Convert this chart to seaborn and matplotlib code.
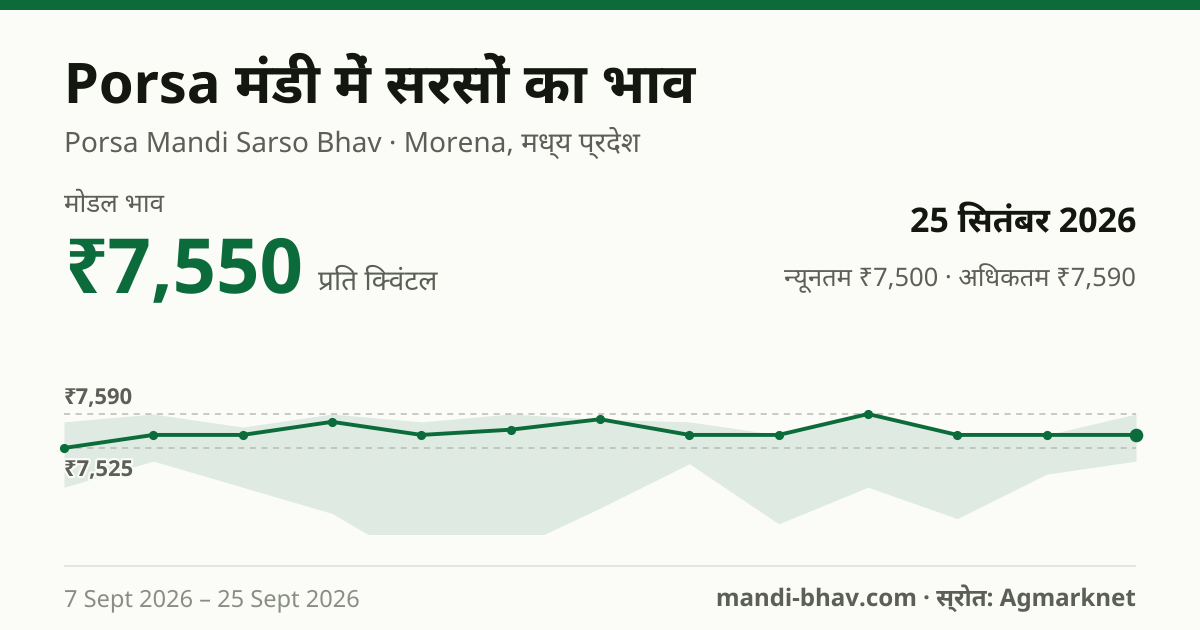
import os, re, tempfile
import matplotlib
matplotlib.use('Agg')
import matplotlib.pyplot as plt
import matplotlib.patheffects as pe
from matplotlib.patches import Rectangle
from matplotlib.text import Text
from matplotlib import font_manager as fm
from fontTools.ttLib import TTFont
from fontTools.varLib import instancer
import pandas as pd
import seaborn as sns

modal = [7525, 7550, 7550, 7575, 7550, 7560, 7580, 7550, 7550, 7590, 7550, 7550, 7550]
upper = [7575, 7590, 7565, 7590, 7575, 7590, 7580, 7575, 7550, 7590, 7550, 7550, 7590]
lower = [7450, 7500, 7450, 7400, 7300, 7330, 7410, 7495, 7380, 7450, 7390, 7475, 7500]
ref_hi, ref_lo = 7590, 7525

GREEN = '#0b6b3a'; BG = '#fbfcf8'; BAND = '#dfeae3'; INK = '#14170f'; GREY = '#5c5f57'; LIGHT = '#8a8d86'
W, H = 1200, 630

# matplotlib has no complex-script shaping. The artists keep the logical Unicode
# strings; at draw time i-matras are reordered and conjuncts use the font's own glyphs.
CLUSTERS = ['प्र', 'क्व', 'न्य']
tmp = tempfile.mkdtemp()
def var_path(name):
    return next(f.fname for f in fm.fontManager.ttflist if f.name == name and f.style == 'normal')

def ligs(gsub, tags):
    idx = {i for r in gsub.FeatureList.FeatureRecord if r.FeatureTag in tags for i in r.Feature.LookupListIndex}
    d = {}
    for i in idx:
        for st in gsub.LookupList.Lookup[i].SubTable:
            if st.LookupType == 7:
                st = st.ExtSubTable
            if st.LookupType == 4:
                for first, ls in st.ligatures.items():
                    for l in ls:
                        d[(first, *l.Component)] = l.LigGlyph
    return d

def apply(gl, d):
    i = 0
    while i < len(gl):
        for k in (3, 2):
            key = tuple(gl[i:i+k])
            if key in d:
                gl[i:i+k] = [d[key]]
                break
        else:
            i += 1
    return gl

def rename(font, fam):
    nm = font['name']
    for nid in (16, 17, 21, 22, 25):
        nm.removeNames(nameID=nid)
    for nid, val in ((1, fam), (2, 'Regular'), (4, fam), (6, fam.replace(' ', ''))):
        nm.setName(val, nid, 3, 1, 0x409)
        nm.setName(val, nid, 1, 0, 0)

PUA = {}
def build(src, wght, fam, clusters=False):
    font = TTFont(src)
    font = instancer.instantiateVariableFont(font, {'wght': wght, 'wdth': 100})
    rename(font, fam)
    if clusters:
        cmap = font.getBestCmap()
        gsub = font['GSUB'].table
        stages = [ligs(gsub, {'akhn'}), ligs(gsub, {'rkrf'}), ligs(gsub, {'half'}),
                  ligs(gsub, {'pres', 'cjct', 'blws', 'abvs'})]
        code = 0xE100
        for c in CLUSTERS:
            gl = [cmap[ord(ch)] for ch in c]
            for d in stages:
                gl = apply(gl, d)
            s = ''
            for g in gl:
                for t in font['cmap'].tables:
                    if t.isUnicode():
                        t.cmap[code] = g
                s += chr(code); code += 1
            PUA[c] = s
    p = os.path.join(tmp, fam.replace(' ', '') + '.ttf')
    font.save(p)
    fm.fontManager.addfont(p)

build(var_path('Noto Sans Devanagari'), 400, 'Deva Reg', True)
build(var_path('Noto Sans Devanagari'), 700, 'Deva Bold', True)
build(var_path('Noto Sans'), 700, 'Latin Bold')

CONS = '[\u0915-\u0939]'
def visual(s, join):
    s = re.sub(f'({CONS}(?:\u094d{CONS})*)\u093f', lambda m: '\u093f' + m.group(1), s)
    if join:
        for c, v in PUA.items():
            s = s.replace(c, v)
    return s

class DevaText(Text):
    join = True
    def draw(self, renderer):
        logical = self._text
        self._text = visual(logical, self.join)
        super().draw(renderer)
        self._text = logical

sns.set_theme(style='white')
REG = ['Noto Sans', 'Deva Reg', 'DejaVu Sans']
BOLD = ['Latin Bold', 'Deva Bold', 'DejaVu Sans']
plt.rcParams['font.family'] = REG
plt.rcParams['text.hinting'] = 'no_hinting'
plt.rcParams['text.hinting_factor'] = 1

fig = plt.figure(figsize=(W/100, H/100), dpi=100, facecolor=BG)
def T(x, y, s, px, color=GREY, bold=False, ha='left', join=True, **k):
    t = DevaText(x/W, 1-y/H, s, fontsize=px*0.72, color=color, ha=ha, va='baseline',
                 family=BOLD if bold else REG, transform=fig.transFigure, **k)
    t.join = join
    return fig.add_artist(t)

fig.add_artist(Rectangle((0, 1-10/H), 1, 10/H, transform=fig.transFigure, color=GREEN, lw=0))
T(64, 103, 'Porsa मंडी में सरसों का भाव', 56, INK, True)
T(64, 152, 'Porsa Mandi Sarso Bhav · Morena, मध्य प्रदेश', 28, join=False)
T(64, 212, 'मोडल भाव', 26)
T(64, 292, '₹7,550', 76, GREEN, True)
T(318, 290, 'प्रति क्विंटल', 28)
T(1136, 232, '25 सितंबर 2026', 34, INK, True, ha='right')
T(1136, 286, 'न्यूनतम ₹7,500 · अधिकतम ₹7,590', 25.5, ha='right')
T(64, 404, '₹7,590', 22, GREY, True)
lab = T(64, 476, '₹7,525', 22, GREY, True, zorder=20)
lab.set_path_effects([pe.withStroke(linewidth=3, foreground=BG)])
T(64, 606, '7 Sept 2026 – 25 Sept 2026', 23.6, LIGHT)
T(1136, 606, 'mandi-bhav.com · स्रोत: Agmarknet', 24.15, GREY, True, ha='right', join=False)
fig.add_artist(Rectangle((64/W, 1-567/H), 1072/W, 2/H, transform=fig.transFigure, color='#e4e6e1', lw=0))

band_h = 119.6
ax = fig.add_axes([64/W, 1-(414+band_h)/H, 1072/W, band_h/H])
ax.set_facecolor('none')
for s in ax.spines.values():
    s.set_visible(False)
df = pd.DataFrame({'i': range(len(modal)), 'modal': modal})
scale = 34/65
ax.set_xlim(0, len(modal)-1)
ax.set_ylim(ref_hi-band_h/scale, ref_hi)
ax.fill_between(df['i'], lower, upper, color=BAND, lw=0, zorder=1)
for v in (ref_hi, ref_lo):
    ax.axhline(v, color='#b9bbb5', lw=1.1, dashes=(4, 3.6), zorder=2, clip_on=False)
sns.lineplot(data=df, x='i', y='modal', ax=ax, color=GREEN, linewidth=2.8, marker='o', markersize=6.6,
             markeredgewidth=0, zorder=3, clip_on=False, errorbar=None)
ax.plot(df['i'].iloc[-1], modal[-1], 'o', color=GREEN, ms=9.8, mew=0, zorder=4, clip_on=False)
ax.set_xlabel(''); ax.set_ylabel(''); ax.set_xticks([]); ax.set_yticks([])
fig.savefig('out.png', dpi=100, facecolor=BG)
